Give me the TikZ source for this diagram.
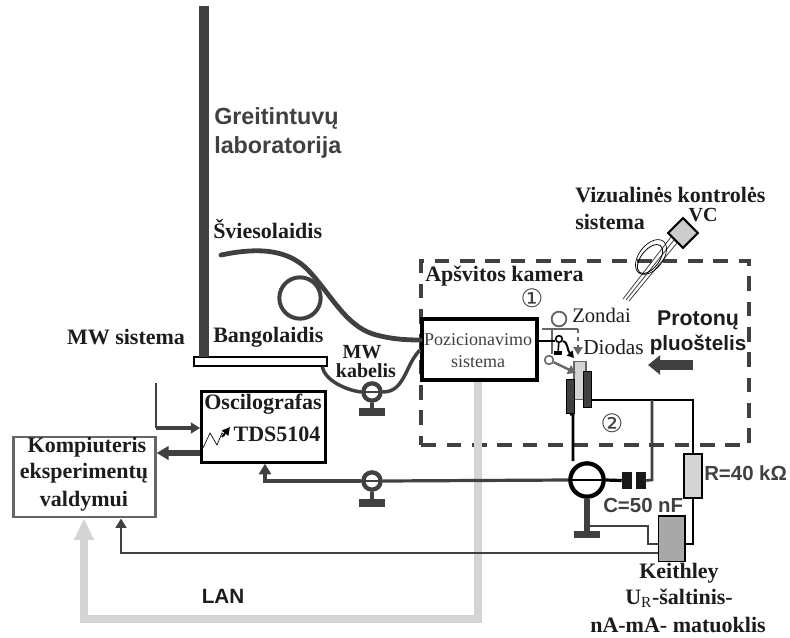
\documentclass[tikz,border=0pt]{standalone}
\usepackage{fontspec}
\setmainfont{Liberation Serif}
\setsansfont{Liberation Sans}
\newfontfamily\symfont{DejaVu Sans}
\usetikzlibrary{arrows.meta,shapes.geometric,calc}
\definecolor{dk}{HTML}{404040}
\definecolor{md}{HTML}{666666}
\definecolor{lt}{HTML}{D4D4D4}
\definecolor{gk}{HTML}{A8A8A8}
\definecolor{tx}{HTML}{1C1C1C}
\tikzset{
  lbl/.style={inner sep=0pt,text=tx,font=\fontsize{16.5}{18}\selectfont\bfseries},
  lblL/.style={lbl,anchor=west},
  sanslbl/.style={inner sep=0pt,text=dk,font=\fontsize{17.5}{19}\selectfont\sffamily\bfseries},
  thin lbl/.style={inner sep=0pt,text=tx,font=\fontsize{15.5}{17}\selectfont},
  fiber/.style={draw=dk,line width=3.6pt,line cap=round},
  bncring/.style={circle,draw=dk,line width=3.2pt,fill=white,minimum size=13pt,inner sep=0pt},
  bncbase/.style={rectangle,fill=dk,inner sep=0pt,minimum width=20pt,minimum height=6pt},
  plate/.style={rectangle,draw=black,fill=dk,line width=.6pt,inner sep=0pt},
  val/.style={inner sep=0pt,anchor=west,text=dk,font=\fontsize{15.3}{17}\selectfont\sffamily\bfseries},
}
\begin{document}
\begin{tikzpicture}[x=0.75pt,y=-0.75pt]
\useasboundingbox (0,0) rectangle (790,637);

% laboratory wall and waveguide
\coordinate (walltop) at (204,6);
\node[rectangle,draw=black,fill=white,line width=1.5pt,inner sep=0pt,minimum width=100pt,minimum height=6.5pt] (plate) at (260.5,361.5) {};
\draw[dk,line width=7.5pt] (walltop) -- (204,357);

\node[sanslbl,anchor=west] (greit) at (214,118) {Greitintuvų};
\node[sanslbl,anchor=west] (labor) at (214,147) {laboratorija};
\node[lblL] (svies) at (213,229) {Šviesolaidis};
\node[lblL] (bang) at (213,337) {Bangolaidis};
\node[lbl] (mwsis) at (126,337) {MW sistema};
\node[lbl,font=\fontsize{15}{17}\selectfont\bfseries] (mw) at (362,352) {MW};
\node[lbl,font=\fontsize{15}{17}\selectfont\bfseries] (kab) at (366,371) {kabelis};

% dashed chamber
\node[rectangle,draw=dk,line width=3pt,dash pattern=on 11pt off 8pt,minimum width=245.5pt,minimum height=138pt,inner sep=0pt] (chamber) at (585,353) {};
\node[lblL] (aps) at (425,276) {Apšvitos kamera};

% positioning box
\node[rectangle,draw=black,fill=white,line width=3pt,minimum width=86pt,minimum height=46pt,inner sep=0pt] (poz) at (479.5,349.5) {};
\node[thin lbl,text=dk,font=\fontsize{13.5}{15}\selectfont] (poz1) at (478,340) {Pozicionavimo};
\node[thin lbl,text=dk,font=\fontsize{13.5}{15}\selectfont] (poz2) at (478,362) {sistema};

% fibre
\coordinate (fstart) at (221,255);
\draw[fiber] (fstart) .. controls (250,249) and (285,246) .. (308,270)
  .. controls (330,293) and (345,325) .. (373,334) .. controls (390,339) and (405,340) .. (poz.west |- 0,340);
\node[circle,draw=dk,line width=3pt,minimum size=31pt,inner sep=0pt] (loop) at (300,298) {};

% MW cable
\node[bncring] (bnc1) at (372,392) {};
\node[bncbase] (base1) at (372,412) {};
\draw[dk,line width=3pt] (bnc1) -- (base1);
\draw[dk,line width=1pt] (bnc1.west) -- (bnc1.east);
\coordinate (cable end) at (420,350);
\draw[draw=dk,line width=2.6pt] (plate.south east) ++(-6,0) .. controls (325,380) and (345,390) .. (bnc1.west);
\draw[draw=dk,line width=2.6pt] (bnc1.east) .. controls (405,392) and (405,365) .. (cable end);

% oscilloscope
\node[rectangle,draw=black,fill=white,line width=2pt,minimum width=93pt,minimum height=53pt,inner sep=0pt] (osc) at (263.5,427) {};
\node[lbl] (osct) at (263,404) {Oscilografas};
\node[lbl] (tds) at (277,434) {TDS5104};
\draw[black,line width=.5pt] (203,448) -- (210,433) -- (217,445) -- (222,433) -- (225,436);
\draw[black,line width=1.3pt,-{Triangle[length=6pt,width=6pt]}] (222,437) -- (230,427);

% computer
\node[rectangle,draw=md,fill=white,line width=2.2pt,minimum width=106pt,minimum height=60pt,inner sep=0pt] (komp) at (84.5,477) {};
\node[lbl] (k1) at (87,447) {Kompiuteris};
\node[lbl] (k2) at (84,473) {eksperimentų};
\node[lbl] (k3) at (84,501) {valdymui};

% MW system feed
\coordinate (mwtop) at (156,383);
\coordinate (mwcorner) at (156,428);
\draw[dk,line width=1.2pt] (mwtop) -- (mwcorner);
\draw[dk,line width=2.4pt,-{Triangle[length=7pt,width=8pt]}] (mwcorner) -- (osc.west |- mwcorner);
\draw[dk,line width=4pt,-{Triangle[length=9pt,width=10pt]}] (osc.west |- 0,453) -- (komp.east |- 0,453);

% LAN
\draw[lt,line width=6pt,-{Triangle[length=16pt,width=14pt]}] (poz.south -| 478,0) -- (478,619) -- (84,619) -- (komp.south -| 84,0);
\node[inner sep=0pt,text=tx,font=\fontsize{15.5}{17}\selectfont\sffamily\bfseries] (lan) at (223,596) {LAN};

% detector assembly
\node[rectangle,draw=md,fill=lt,line width=.8pt,minimum width=9pt,minimum height=29pt,inner sep=0pt] (sample) at (580,380.5) {};
\node[plate,minimum width=6pt,minimum height=26pt] (pl) at (570,396.5) {};
\node[plate,minimum width=6.5pt,minimum height=27pt] (pr) at (587.5,389) {};

% current transformer
\node[circle,draw=black,fill=white,line width=3.2pt,minimum size=25pt,inner sep=0pt] (ct) at (587,480) {};
\node[bncbase,minimum height=5.5pt] (ctbase) at (587,534.5) {};
\draw[dk,line width=4pt] (ct.south) -- (ctbase);

% BNC on signal line
\node[bncring] (bnc2) at (372,481) {};
\node[bncbase] (base2) at (372,503) {};
\draw[dk,line width=3pt] (bnc2) -- (base2);
\draw[dk,line width=1pt] (bnc2.west) -- (bnc2.east);

\draw[dk,line width=2.4pt,-{Triangle[length=8pt,width=9pt]}] (bnc2.west) -- (265,481) -- (osc.south -| 265,0);
\draw[dk,line width=2.4pt] (bnc2.east) -- (ct.west);
\draw[black,line width=1.2pt] (ct.west) -- (ct.east);

% capacitor
\node[rectangle,fill=black!90,minimum width=7.5pt,minimum height=13pt,inner sep=0pt] (c1) at (627,480.5) {};
\node[rectangle,fill=black!90,minimum width=7.5pt,minimum height=13pt,inner sep=0pt] (c2) at (641,480.5) {};
\draw[black,line width=2.4pt] (ct.east) -- (c1.west);

% resistor and Keithley
\node[rectangle,draw=black,fill=lt,line width=.9pt,minimum width=13.5pt,minimum height=33pt,inner sep=0pt] (res) at (693,476) {};
\node[rectangle,draw=black,fill=gk,line width=1pt,minimum width=20pt,minimum height=34pt,inner sep=0pt] (kei) at (671.5,538.5) {};

\draw[black,line width=2pt] (pl.south) -- (573,414) -- (ct.north -| 573,0);
\draw[black,line width=2pt] (pr.east |- 0,400) -- (693,400) -- (res.north);
\draw[dk,line width=2pt] (652,400) -- (652,480) -- (c2.east);
\draw[black,line width=1.3pt] (res.south) -- (693,544) -- (kei.east |- 0,544);
\draw[dk,line width=1.3pt] (590,526) -- (648,526) -- (648,544) -- (kei.west |- 0,544);
\draw[dk,line width=1.9pt,-{Triangle[length=7pt,width=8pt]}] (kei.west |- 0,553) -- (121,553) -- (komp.south -| 121,0);

% probes and diode
\node[circle,draw=md,line width=1.4pt,minimum size=11pt,inner sep=0pt] (zond) at (559,319) {};
\coordinate (gl) at (542,329);
\coordinate (gr) at (578,329);
\draw[md,line width=1.4pt] (gl) -- (gr);
\draw[md,line width=1.4pt] (552,329) -- (552,354);
\draw[md,line width=1.2pt,dashed,-{Triangle[length=6pt,width=7pt]}] (gr) -- (578,355);
\draw[black,line width=1pt] (poz.east |- 0,341) -- (555,341);
\node[circle,draw=black,line width=1.2pt,minimum size=5pt,inner sep=0pt] (diode) at (559,339) {};
\node[rectangle,fill=black,minimum width=6pt,minimum height=3pt,inner sep=0pt] (dbar) at (558,353) {};
\draw[black,line width=1.2pt] (diode) -- (dbar);
\draw[black,line width=1.5pt,-{Triangle[length=5pt,width=5.5pt]}] (563,341) .. controls (568,342) and (567,350) .. (574,358);
\node[circle,draw=md,line width=1.2pt,minimum size=6.5pt,inner sep=0pt] (src) at (549,360) {};
\draw[md,line width=1.8pt,-{Triangle[length=6pt,width=7pt]}] (src) -- (576,373);

% texts in the chamber
\node[inner sep=0pt,text=dk,font=\fontsize{19}{21}\selectfont\symfont] (n1) at (532,298) {①};
\node[inner sep=0pt,text=dk,font=\fontsize{19}{21}\selectfont\symfont] (n2) at (612,423) {②};
\node[thin lbl,anchor=west] (zt) at (572,315) {Zondai};
\node[thin lbl,anchor=west,font=\fontsize{16}{18}\selectfont] (dt) at (583,347) {Diodas};
\node[inner sep=0pt,text=tx,font=\fontsize{16}{18}\selectfont\sffamily\bfseries] (pr1) at (698,320) {Protonų};
\node[inner sep=0pt,text=tx,font=\fontsize{15.5}{17}\selectfont\sffamily\bfseries] (pr2) at (698,345) {pluoštelis};
\coordinate (beamstart) at (693,365);
\coordinate (beamend) at (648,365);
\draw[dk,line width=7pt,-{Triangle[length=9pt,width=14pt]}] (beamstart) -- (beamend);

% visual control
\node[diamond,draw=black,fill=lt!90!gray,line width=1.6pt,minimum size=23pt,inner sep=0pt] (vc) at (683,233) {};
\draw[dk,line width=.6pt] (671,237) -- (623,299);
\draw[dk,line width=.6pt] (674,240) -- (626,300);
\draw[dk,line width=.6pt] (677,243) -- (629,301);
\draw[black,line width=.6pt,rotate around={52:(650,259)}] (650,259) ellipse [x radius=17,y radius=9];
\draw[black,line width=.5pt,rotate around={52:(651,257)}] (651,257) ellipse [x radius=20,y radius=12];
\node[lblL] (viz) at (575,195) {Vizualinės kontrolės};
\node[lblL] (sis) at (575,222) {sistema};
\node[lbl,font=\fontsize{15}{17}\selectfont\bfseries] (vct) at (703,215) {VC};

% value labels
\node[val] (rl) at (704,473) {R=40 kΩ};
\node[val] (cl) at (603,505) {C=50 nF};
\node[lbl] (ke1) at (679,573) {Keithley};
\node[lbl] (ke2) at (679,598) {U$_{\mathrm{R}}$-šaltinis-};
\node[lbl] (ke3) at (678,625) {nA-mA- matuoklis};
\end{tikzpicture}
\end{document}
